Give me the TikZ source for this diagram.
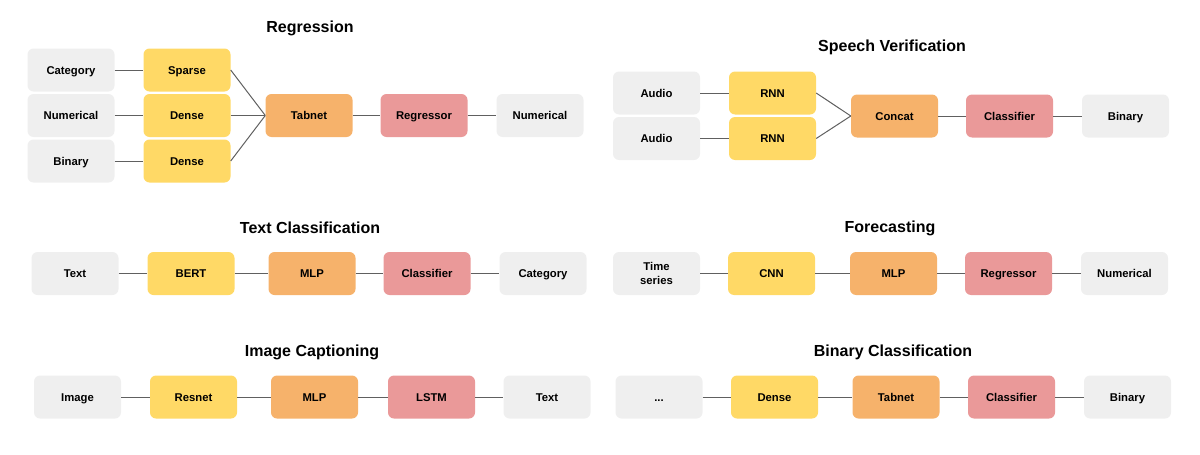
\documentclass[tikz,border=0pt]{standalone}
\usepackage{fontspec}
\setmainfont{Liberation Sans}
\usetikzlibrary{positioning}
\definecolor{ioGray}{HTML}{EFEFEF}
\definecolor{encYellow}{HTML}{FFD966}
\definecolor{midOrange}{HTML}{F6B26B}
\definecolor{headRed}{HTML}{EA9999}
\definecolor{linkGray}{HTML}{606060}

\begin{document}
\begin{tikzpicture}[x=1pt, y=-1pt, node distance={116pt},
    block/.style = {rounded corners=6pt, minimum width=87pt, minimum height=43pt, inner sep=2pt, text height=9pt, text depth=1pt, align=center, font=\fontsize{11.3}{14}\selectfont\bfseries},
    io/.style = {block, fill=ioGray},
    enc/.style = {block, fill=encYellow},
    mid/.style = {block, fill=midOrange},
    head/.style = {block, fill=headRed},
    title/.style = {font=\fontsize{16}{19}\selectfont\bfseries},
    link/.style = {draw=linkGray, line width=1pt}]
    \useasboundingbox (0,0) rectangle (1200,455);

    % Regression
    \node[title] (regT) at (310,28) {Regression};
    \node[io] (regIn1) at (71,70) {Category};
    \node[io, node distance=45.5pt] (regIn2) [below of=regIn1] {Numerical};
    \node[io, node distance=45.5pt] (regIn3) [below of=regIn2] {Binary};
    \node[enc] (regEnc1) [right of=regIn1] {Sparse};
    \node[enc] (regEnc2) [right of=regIn2] {Dense};
    \node[enc] (regEnc3) [right of=regIn3] {Dense};
    \node[mid, node distance=122pt] (regMid) [right of=regEnc2] {Tabnet};
    \node[head, node distance=115pt] (regHead) [right of=regMid] {Regressor};
    \node[io] (regOut) [right of=regHead] {Numerical};

    \path[link] (regIn1) edge (regEnc1);
    \path[link] (regIn2) edge (regEnc2);
    \path[link] (regIn3) edge (regEnc3);
    \path[link] (regEnc1.east) edge (regMid.west);
    \path[link] (regEnc2.east) edge (regMid.west);
    \path[link] (regEnc3.east) edge (regMid.west);
    \path[link] (regMid) edge (regHead);
    \path[link] (regHead) edge (regOut);

    % Speech Verification
    \node[title] (spT) at (892,47) {Speech Verification};
    \node[io] (spIn1) at (656.5,93) {Audio};
    \node[io, node distance=45.5pt] (spIn2) [below of=spIn1] {Audio};
    \node[enc] (spEnc1) [right of=spIn1] {RNN};
    \node[enc] (spEnc2) [right of=spIn2] {RNN};
    \node[mid] (spMid) at (894.5,116) {Concat};
    \node[head, node distance=115pt] (spHead) [right of=spMid] {Classifier};
    \node[io] (spOut) [right of=spHead] {Binary};

    \path[link] (spIn1) edge (spEnc1);
    \path[link] (spIn2) edge (spEnc2);
    \path[link] (spEnc1.east) edge (spMid.west);
    \path[link] (spEnc2.east) edge (spMid.west);
    \path[link] (spMid) edge (spHead);
    \path[link] (spHead) edge (spOut);

    % Text Classification
    \node[title] (tcT) at (310,228) {Text Classification};
    \node[io] (tcIn) at (75,273.5) {Text};
    \node[enc] (tcEnc) [right of=tcIn] {BERT};
    \node[mid, node distance=121pt] (tcMid) [right of=tcEnc] {MLP};
    \node[head, node distance=115pt] (tcHead) [right of=tcMid] {Classifier};
    \node[io] (tcOut) [right of=tcHead] {Category};

    \path[link] (tcIn) edge (tcEnc);
    \path[link] (tcEnc) edge (tcMid);
    \path[link] (tcMid) edge (tcHead);
    \path[link] (tcHead) edge (tcOut);

    % Forecasting
    \node[title] (fcT) at (890,228) {Forecasting};
    \node[io, text height={}, text depth={}] (fcIn) at (656.5,273.5) {Time\\series};
    \node[enc, node distance=115pt] (fcEnc) [right of=fcIn] {CNN};
    \node[mid, node distance=122pt] (fcMid) [right of=fcEnc] {MLP};
    \node[head, node distance=115pt] (fcHead) [right of=fcMid] {Regressor};
    \node[io] (fcOut) [right of=fcHead] {Numerical};

    \path[link] (fcIn) edge (fcEnc);
    \path[link] (fcEnc) edge (fcMid);
    \path[link] (fcMid) edge (fcHead);
    \path[link] (fcHead) edge (fcOut);

    % Image Captioning
    \node[title] (icT) at (312,352) {Image Captioning};
    \node[io] (icIn) at (77.5,397) {Image};
    \node[enc] (icEnc) [right of=icIn] {Resnet};
    \node[mid, node distance=121pt] (icMid) [right of=icEnc] {MLP};
    \node[head, node distance=117pt] (icHead) [right of=icMid] {LSTM};
    \node[io, node distance=115.5pt] (icOut) [right of=icHead] {Text};

    \path[link] (icIn) edge (icEnc);
    \path[link] (icEnc) edge (icMid);
    \path[link] (icMid) edge (icHead);
    \path[link] (icHead) edge (icOut);

    % Binary Classification
    \node[title] (bcT) at (893,352) {Binary Classification};
    \node[io] (bcIn) at (659,397) {...};
    \node[enc, node distance=115.5pt] (bcEnc) [right of=bcIn] {Dense};
    \node[mid, node distance=121.5pt] (bcMid) [right of=bcEnc] {Tabnet};
    \node[head, node distance=115.5pt] (bcHead) [right of=bcMid] {Classifier};
    \node[io] (bcOut) [right of=bcHead] {Binary};

    \path[link] (bcIn) edge (bcEnc);
    \path[link] (bcEnc) edge (bcMid);
    \path[link] (bcMid) edge (bcHead);
    \path[link] (bcHead) edge (bcOut);
\end{tikzpicture}
\end{document}
